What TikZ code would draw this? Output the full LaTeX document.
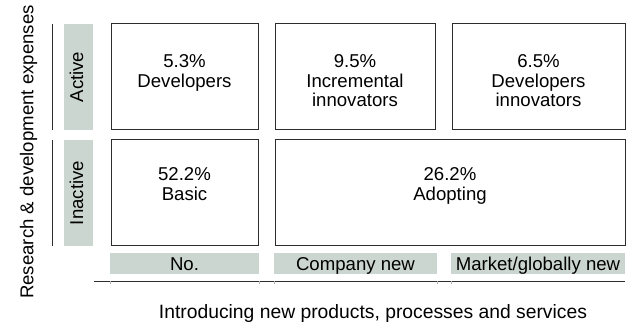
\documentclass[tikz,border=0pt]{standalone}
\usepackage{fontspec}
\setmainfont{Liberation Sans}
\usetikzlibrary{positioning}
\definecolor{bargrey}{RGB}{204,214,208}
\definecolor{linegrey}{RGB}{45,45,45}

\begin{document}
\begin{tikzpicture}[x=1pt, y=-1pt,
    cell/.style={draw=linegrey, line width=1pt, minimum height=106pt, inner sep=0pt},
    bar/.style={fill=bargrey, inner sep=0pt, text height=13pt, text depth=0pt},
    txt/.style={align=center, inner sep=0pt}]
    \fontsize{18.6}{19.5}\selectfont
    % Background
    \useasboundingbox (0,0) rectangle (632,323);

    % axis titles
    \node[rotate=90] (rnd) at (28.5,152) {Research \& development expenses};
    \node[font=\fontsize{19.3}{20}\selectfont] (intro) at (373,314) {Introducing new products, processes and services};

    % row labels
    \node[bar, text depth=4pt, rotate=90, minimum width=106pt, minimum height=29pt] (active) at (78.5,77) {Active};
    \node[bar, text depth=4pt, rotate=90, minimum width=106pt, minimum height=29pt] (inactive) at (78.5,193) {Inactive};
    \draw[linegrey, line width=1pt] (52,24) -- (52,130);
    \draw[linegrey, line width=1pt] (52,140) -- (52,246);

    % column labels
    \node[bar, minimum width=149pt, minimum height=21pt] (no) at (184.5,263.5) {No.};
    \node[bar, minimum width=163pt, minimum height=21pt] (compnew) at (355.5,263.5) {Company new};
    \node[bar, minimum width=174pt, minimum height=21pt] (marknew) at (538,263.5) {Market/globally new};
    \draw[linegrey, line width=1pt] (94,281) -- (625,281);
\foreach \x in {110, 259, 274, 437, 451}
  \draw[black!30, line width=0.6pt] (\x,281) -- (\x,284);

    % top row
    \node[cell, minimum width=147pt] (dev) at (184.5,77) {};
    \node[cell, minimum width=160pt] (incr) at (355,77) {};
    \node[cell, minimum width=173pt] (devinn) at (538.5,77) {};
    \node[txt, below=31pt of dev.north] (devtxt) {5.3\%\\Developers};
    \node[txt, below=31pt of incr.north] (incrtxt) {9.5\%\\Incremental\\innovators};
    \node[txt, below=31pt of devinn.north] (devinntxt) {6.5\%\\Developers\\innovators};

    % bottom row
    \node[cell, minimum width=147pt] (basic) at (184.5,193) {};
    \node[cell, minimum width=350pt] (adopt) at (450,193) {};
    \node[txt, below=28pt of basic.north] (basictxt) {52.2\%\\Basic};
    \node[txt, below=28pt of adopt.north] (adopttxt) {26.2\%\\Adopting};

\end{tikzpicture}
\end{document}
